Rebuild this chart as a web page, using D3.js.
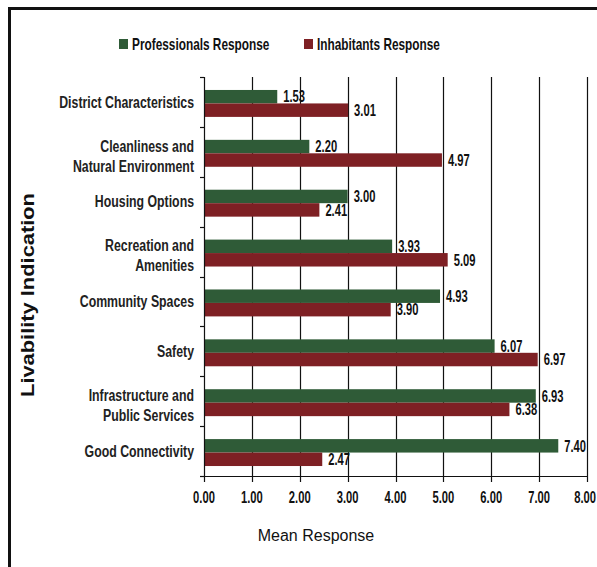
<!DOCTYPE html>
<html>
<head>
<meta charset="utf-8">
<script src="https://cdn.jsdelivr.net/npm/d3@7"></script>
<style>
  html, body { margin: 0; padding: 0; background: #fff; }
  svg { display: block; }
</style>
</head>
<body>
<script>
// Livability indicators: mean response of professionals vs inhabitants
const categories = [
  "District Characteristics",
  "Cleanliness and\nNatural Environment",
  "Housing Options",
  "Recreation and\nAmenities",
  "Community Spaces",
  "Safety",
  "Infrastructure and\nPublic Services",
  "Good Connectivity"
];
const professionals = [1.53, 2.20, 3.00, 3.93, 4.93, 6.07, 6.93, 7.40];
const inhabitants   = [3.01, 4.97, 2.41, 5.09, 3.90, 6.97, 6.38, 2.47];
const seriesNames   = ["Professionals Response", "Inhabitants Response"];
const seriesColors  = ["#2f5b37", "#7e2024"];
const xTicks        = [0, 1, 2, 3, 4, 5, 6, 7, 8];

const W = 597, H = 567;
const sans = "'Liberation Sans', Arial, sans-serif";
const fmt = d3.format(".2f");

const svg = d3.select("body").append("svg")
  .attr("width", W).attr("height", H);

// outer frame
svg.append("rect")
  .attr("x", 9.5).attr("y", 8.5)
  .attr("width", W + 20).attr("height", H + 20)
  .attr("fill", "none").attr("stroke", "#111").attr("stroke-width", 3);

const x = d3.scaleLinear().domain([0, 8]).range([204, 587]);
const y = d3.scaleBand().domain(categories).range([77, 476]);
const ySub = d3.scaleBand().domain(seriesNames)
  .range([y.bandwidth() * 0.26, y.bandwidth() * 0.80]);
const color = d3.scaleOrdinal().domain(seriesNames).range(seriesColors);

const rows = categories.map((c, i) => ({
  category: c,
  values: [
    { series: seriesNames[0], value: professionals[i] },
    { series: seriesNames[1], value: inhabitants[i] }
  ]
}));

// condensed text helper: places text and squeezes it horizontally
function squeezed(sel, sx) {
  return sel.attr("transform", d => `translate(${d.tx},${d.ty}) scale(${sx},1)`);
}

const [yTop, yBot] = y.range();

// vertical gridlines
svg.append("g").selectAll("line")
  .data(xTicks.filter(t => t > 0))
  .join("line")
  .attr("x1", d => Math.round(x(d)) + 0.5).attr("x2", d => Math.round(x(d)) + 0.5)
  .attr("y1", yTop).attr("y2", yBot)
  .attr("stroke", "#111").attr("stroke-width", 1.2);

// bars
const groups = svg.append("g").selectAll("g")
  .data(rows).join("g")
  .attr("transform", d => `translate(0,${y(d.category)})`);

groups.selectAll("rect")
  .data(d => d.values).join("rect")
  .attr("x", x(0))
  .attr("y", d => ySub(d.series))
  .attr("width", d => x(d.value) - x(0))
  .attr("height", ySub.bandwidth())
  .attr("fill", d => color(d.series));

// value labels
groups.selectAll("text")
  .data(d => d.values.map(v => Object.assign({}, v, {
    tx: x(v.value) + 6,
    ty: ySub(v.series) + ySub.bandwidth() / 2
  })))
  .join("text")
  .call(squeezed, 0.70)
  .attr("dy", "0.36em")
  .attr("font-family", sans).attr("font-weight", "bold").attr("font-size", 16)
  .attr("fill", "#111")
  .text(d => fmt(d.value));

// y axis: line with ticks at band boundaries
const yAxis = svg.append("g");
yAxis.append("line")
  .attr("x1", x(0) + 0.5).attr("x2", x(0) + 0.5)
  .attr("y1", yTop).attr("y2", yBot)
  .attr("stroke", "#111").attr("stroke-width", 1.2);
yAxis.selectAll("line.tick")
  .data(categories.map(c => y(c)).concat([yBot]))
  .join("line").attr("class", "tick")
  .attr("x1", x(0) - 4).attr("x2", x(0))
  .attr("y1", d => Math.round(d) + 0.5).attr("y2", d => Math.round(d) + 0.5)
  .attr("stroke", "#111").attr("stroke-width", 1.2);

// category labels (right aligned, wrapped on \n)
const catLabels = yAxis.selectAll("text.cat")
  .data(categories.map(c => ({ c, tx: 194, ty: y(c) + y.bandwidth() / 2 })))
  .join("text").attr("class", "cat")
  .call(squeezed, 0.77)
  .attr("text-anchor", "end")
  .attr("font-family", sans).attr("font-weight", "bold").attr("font-size", 16)
  .attr("fill", "#222");
catLabels.each(function (d) {
  const lines = d.c.split("\n");
  const t = d3.select(this);
  lines.forEach((ln, i) => {
    const off = lines.length === 1 ? 0 : (i === 0 ? -6 : 14);
    t.append("tspan").attr("x", 0).attr("y", off).attr("dy", "0.36em").text(ln);
  });
});

// x axis
const xAxis = svg.append("g");
xAxis.append("line")
  .attr("x1", x(0) - 4).attr("x2", x(8))
  .attr("y1", yBot + 0.5).attr("y2", yBot + 0.5)
  .attr("stroke", "#111").attr("stroke-width", 1.2);
xAxis.selectAll("line.tick")
  .data(xTicks).join("line").attr("class", "tick")
  .attr("x1", d => Math.round(x(d)) + 0.5).attr("x2", d => Math.round(x(d)) + 0.5)
  .attr("y1", yBot).attr("y2", yBot + 6)
  .attr("stroke", "#111").attr("stroke-width", 1.2);
const tickLabels = xAxis.selectAll("text")
  .data(xTicks.map(t => ({ t, tx: x(t), ty: 503 })))
  .join("text")
  .attr("text-anchor", "middle")
  .attr("font-family", sans).attr("font-weight", "bold").attr("font-size", 16)
  .attr("fill", "#111")
  .text(d => fmt(d.t));
// keep the last label inside the page edge
tickLabels.each(function (d) {
  const half = this.getComputedTextLength() * 0.70 / 2;
  d.tx = Math.min(d.tx, W - 1 - half);
});
tickLabels.call(squeezed, 0.70);

// axis titles
svg.append("text")
  .attr("x", 316).attr("y", 541)
  .attr("text-anchor", "middle")
  .attr("font-family", sans).attr("font-size", 16).attr("fill", "#111")
  .text("Mean Response");

svg.append("text")
  .attr("transform", "translate(34,295) rotate(-90) scale(1.15,1)")
  .attr("text-anchor", "middle")
  .attr("font-family", sans).attr("font-weight", "bold").attr("font-size", 19)
  .attr("fill", "#111")
  .text("Livability Indication");

// legend
const legendPos = [119, 304];
const legend = svg.append("g").selectAll("g")
  .data(seriesNames).join("g")
  .attr("transform", (d, i) => `translate(${legendPos[i]},39)`);
legend.append("rect")
  .attr("width", 9).attr("height", 10)
  .attr("fill", d => color(d));
legend.append("text")
  .datum(d => ({ d, tx: 13, ty: 5 }))
  .call(squeezed, 0.74)
  .attr("dy", "0.36em")
  .attr("font-family", sans).attr("font-weight", "bold").attr("font-size", 16)
  .attr("fill", "#111")
  .text(d => d.d);
</script>
</body>
</html>
